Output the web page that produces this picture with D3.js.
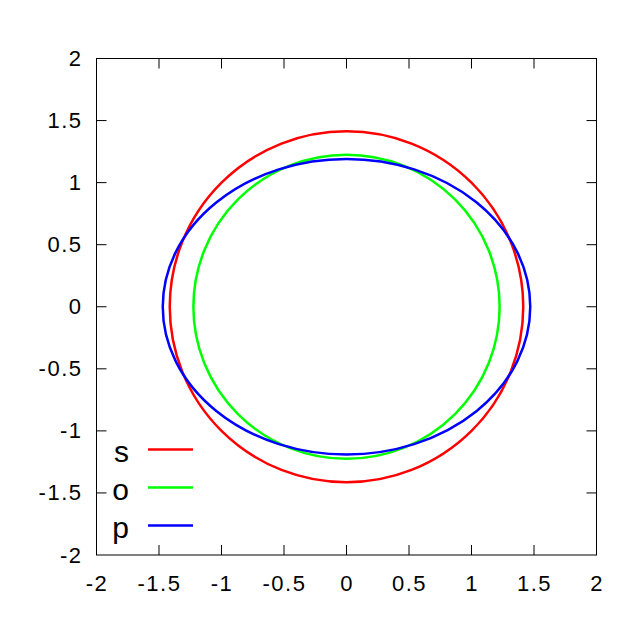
<!DOCTYPE html>
<html>
<head>
<meta charset="utf-8">
<script src="https://cdn.jsdelivr.net/npm/d3@7"></script>
<style>
  body { margin: 0; background: #fff; }
  text { font-family: "Liberation Sans", Arial, sans-serif; }
</style>
</head>
<body>
<div id="chart"></div>
<script>
// curves: semi-axes
var names = ["s", "o", "p"];
var radiusX = [1.414, 1.225, 1.47];
var radiusY = [1.414, 1.225, 1.19];
var colors = ["#ff0000", "#00ff00", "#0000ff"];
var ticks = [-2, -1.5, -1, -0.5, 0, 0.5, 1, 1.5, 2];

var W = 640, H = 640;
var margin = { top: 58.5, right: 43.5, bottom: 85, left: 96.5 };

var svg = d3.select("#chart").append("svg")
    .attr("width", W)
    .attr("height", H);

var x = d3.scaleLinear().domain([-2, 2]).range([margin.left, W - margin.right]);
var y = d3.scaleLinear().domain([-2, 2]).range([H - margin.bottom, margin.top]);

var tickLen = 10;

// tick labels
svg.append("g")
    .attr("transform", "translate(0," + y(-2) + ")")
    .call(d3.axisBottom(x).tickValues(ticks).tickSize(0).tickPadding(20)
        .tickFormat(function(d) { return d; }))
    .call(function(g) { g.select(".domain").remove(); })
    .selectAll("text").attr("font-size", 22).attr("letter-spacing", 1.5).attr("fill", "#000");

svg.append("g")
    .attr("transform", "translate(" + x(-2) + ",0)")
    .call(d3.axisLeft(y).tickValues(ticks).tickSize(0).tickPadding(14)
        .tickFormat(function(d) { return d; }))
    .call(function(g) { g.select(".domain").remove(); })
    .selectAll("text").attr("font-size", 22).attr("letter-spacing", 1.5).attr("fill", "#000");

// inward ticks on all four sides
var inner = ticks.slice(1, -1);
var tk = svg.append("g").attr("stroke", "#000").attr("stroke-width", 1);
inner.forEach(function(v) {
    tk.append("line").attr("x1", x(v)).attr("x2", x(v)).attr("y1", y(-2)).attr("y2", y(-2) - tickLen);
    tk.append("line").attr("x1", x(v)).attr("x2", x(v)).attr("y1", y(2)).attr("y2", y(2) + tickLen);
    tk.append("line").attr("y1", y(v)).attr("y2", y(v)).attr("x1", x(-2)).attr("x2", x(-2) + tickLen);
    tk.append("line").attr("y1", y(v)).attr("y2", y(v)).attr("x1", x(2)).attr("x2", x(2) - tickLen);
});

// curves
svg.append("g").selectAll("ellipse")
    .data(names)
    .enter().append("ellipse")
    .attr("cx", x(0))
    .attr("cy", y(0))
    .attr("rx", function(d, i) { return x(radiusX[i]) - x(0); })
    .attr("ry", function(d, i) { return y(0) - y(radiusY[i]); })
    .attr("fill", "none")
    .attr("stroke", function(d, i) { return colors[i]; })
    .attr("stroke-width", 2.5);

// frame
svg.append("rect")
    .attr("x", x(-2))
    .attr("y", y(2))
    .attr("width", x(2) - x(-2))
    .attr("height", y(-2) - y(2))
    .attr("fill", "none")
    .attr("stroke", "#000")
    .attr("stroke-width", 1);

// legend
var legend = svg.append("g").selectAll("g")
    .data(names)
    .enter().append("g")
    .attr("transform", function(d, i) { return "translate(0," + (449.5 + i * 38) + ")"; });

legend.append("text")
    .attr("x", 129)
    .attr("y", 12.5)
    .attr("text-anchor", "end")
    .attr("font-size", 30)
    .text(function(d) { return d; });

legend.append("line")
    .attr("x1", 148)
    .attr("x2", 193)
    .attr("stroke", function(d, i) { return colors[i]; })
    .attr("stroke-width", 2.5);
</script>
</body>
</html>
